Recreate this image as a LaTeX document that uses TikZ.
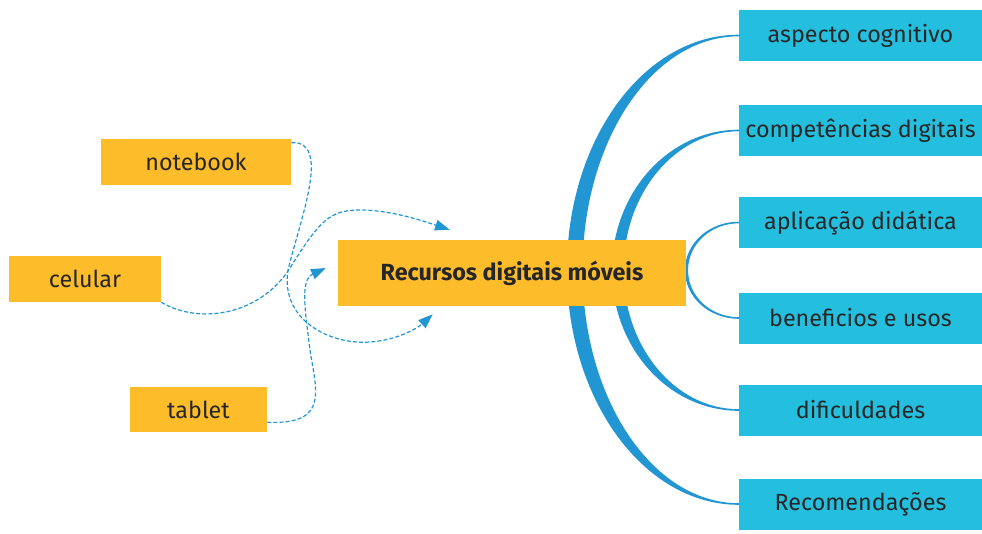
\documentclass[tikz,border=0pt]{standalone}
\usepackage{fontspec}
\setmainfont{Fira Sans}
\usepackage{tikz}
\usetikzlibrary{arrows.meta,positioning,calc}
\definecolor{boxyellow}{HTML}{FDBD2A}
\definecolor{boxcyan}{HTML}{24BFDE}
\definecolor{arcblue}{HTML}{2196D3}
\definecolor{textgray}{HTML}{262626}

\begin{document}
\begin{tikzpicture}[x=0.75pt, y=-0.75pt, every node/.style={font=\fontsize{17.5}{21}\selectfont, text=textgray}]

\tikzstyle{device} = [rectangle, fill=boxyellow, text centered, minimum height=34.5pt, inner sep=0pt]
\tikzstyle{central} = [rectangle, fill=boxyellow, text centered, minimum width=261pt, minimum height=49.5pt, inner sep=0pt, font=\fontsize{17.5}{21}\selectfont\bfseries]
\tikzstyle{topic} = [rectangle, fill=boxcyan, text centered, minimum width=182.25pt, minimum height=38.25pt, inner sep=0pt]
\tikzstyle{link} = [arcblue, line width=0.9pt, dash pattern=on 3pt off 1.6pt, -{Triangle[length=11pt, width=8pt]}]
\tikzstyle{band} = [fill=arcblue, draw=arcblue, line width=1.2pt, line join=round]

\useasboundingbox (0,0) rectangle (982,533);

% Topics
\node[topic] (asp) at (860.5,35.5) {aspecto cognitivo};
\node[topic] (comp) at (860.5,130.5) {competências digitais};
\node[topic] (apl) at (860.5,222.5) {aplicação didática};
\node[topic] (ben) at (860.5,318) {beneficios e usos};
\node[topic] (dif) at (860.5,410) {dificuldades};
\node[topic] (rec) at (860.5,504) {Recomendações};

% Bands
\fill[band] (asp.west) arc[start angle=270, end angle=90, x radius=171, y radius=234.25]
  -- (rec.west) arc[start angle=90, end angle=270, x radius=157, y radius=234.25] -- cycle;
\fill[band] (comp.west) arc[start angle=270, end angle=90, x radius=126, y radius=139.75]
  -- (dif.west) arc[start angle=90, end angle=270, x radius=116, y radius=139.75] -- cycle;
\fill[band] (apl.west) arc[start angle=270, end angle=90, x radius=53, y radius=47.75]
  -- (ben.west) arc[start angle=90, end angle=270, x radius=51.5, y radius=47.75] -- cycle;

% Devices
\node[device, minimum width=142.5pt] (nb) at (196,162) {notebook};
\node[device, minimum width=114pt] (cel) at (85,279) {celular};
\node[device, minimum width=102.75pt, minimum height=33.75pt] (tab) at (198.5,409.5) {tablet};

% Center
\node[central] (rdm) at (512,273) {Recursos digitais móveis};

% Ends
\coordinate (endnb) at ($(rdm.south west)+(95,8)$);
\coordinate (endcel) at ($(rdm.north west)+(112,-10)$);
\coordinate (endtab) at ($(rdm.west)+(-12,-5)$);

% Arrows
\draw[link] ($(nb.north east)+(0,4)$) .. controls (332,140) and (300,220) .. (288,270)
  .. controls (280,320) and (330,345) .. (370,342) .. controls (400,340) and (420,326) .. (endnb);
\draw[link] (cel.south east) .. controls (200,325) and (260,315) .. (290,268)
  .. controls (320,220) and (330,210) .. (360,210) .. controls (390,210) and (420,220) .. (endcel);
\draw[link] ($(tab.south east)+(0,-10)$) .. controls (330,425) and (316,390) .. (310,350)
  .. controls (305,310) and (300,280) .. (endtab);

\end{tikzpicture}
\end{document}
